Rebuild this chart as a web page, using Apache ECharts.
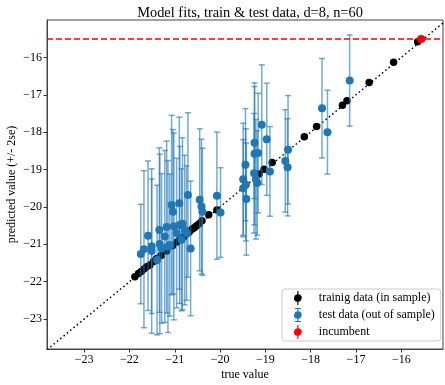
<!DOCTYPE html>
<html>
<head>
<meta charset="utf-8">
<script src="https://cdn.jsdelivr.net/npm/echarts@6/dist/echarts.min.js"></script>
<style>html,body{margin:0;padding:0;background:#fff}#c{width:445px;height:385px}</style>
</head>
<body>
<div id="c"></div>
<script>
// ---- data ----
const xLimits = [-23.82, -15.08];
const yLimits = [-23.80, -15.0];
const tickValues = [-23, -22, -21, -20, -19, -18, -17, -16];

const trainX = [-21.88,-21.80,-21.74,-21.68,-21.62,-21.55,-21.47,-21.40,-21.30,-21.18,-21.05,-20.95,-20.88,-20.80,-20.74,-20.68,-20.62,-20.57,-20.52,-20.46,-20.40,-20.25,-20.07,-19.14,-19.03,-18.85,-18.14,-17.87,-17.30,-17.20,-16.71,-16.17,-15.64];
const trainY = [-21.87,-21.78,-21.73,-21.66,-21.60,-21.55,-21.46,-21.38,-21.30,-21.18,-21.04,-20.94,-20.87,-20.80,-20.72,-20.67,-20.60,-20.56,-20.50,-20.45,-20.37,-20.21,-20.08,-19.12,-18.99,-18.81,-18.12,-17.85,-17.28,-17.16,-16.67,-16.13,-15.58];

const testX = [-21.75,-21.68,-21.59,-21.51,-21.51,-21.39,-21.34,-21.33,-21.29,-21.22,-21.18,-21.15,-21.11,-21.07,-21.04,-21.02,-20.96,-20.90,-20.89,-20.85,-20.83,-20.78,-20.74,-20.71,-20.65,-20.45,-20.41,-20.39,-20.07,-19.99,
  -19.49,-19.49,-19.44,-19.43,-19.42,-19.25,-19.24,-19.24,-19.16,-19.21,-19.18,-19.08,-18.97,-18.90,
  -18.56,-18.50,-18.51,-17.75,-17.63,-17.14];
const testY = [-21.26,-21.13,-20.77,-21.18,-21.05,-21.42,-20.62,-20.99,-21.11,-20.79,-20.54,-21.06,-21.02,-19.95,-20.13,-20.52,-20.70,-19.90,-20.48,-20.88,-20.45,-20.62,-20.70,-19.68,-21.11,-19.81,-19.99,-20.13,-19.70,-20.15,
  -19.50,-19.26,-18.87,-19.41,-19.79,-19.10,-18.28,-18.58,-18.56,-19.26,-19.36,-17.80,-18.19,-19.05,
  -18.77,-18.47,-18.94,-17.36,-18.00,-16.62];
const testErr = [1.33,2.10,2.00,2.20,1.80,2.00,2.20,2.40,2.00,2.30,2.30,2.30,1.90,2.40,2.20,2.50,2.00,2.30,2.10,1.90,2.30,2.00,1.80,2.20,1.80,1.90,1.80,1.70,1.70,1.20,
  1.30,1.50,1.50,1.50,1.50,1.60,1.50,1.90,1.60,1.60,1.40,1.60,1.50,1.20,
  1.37,1.45,1.30,1.33,1.12,1.22];

const incumbentX = [-15.56];
const incumbentY = [-15.51];

const labels = ['trainig data (in sample)', 'test data (out of sample)', 'incumbent'];
const titleText = 'Model fits, train & test data, d=8, n=60';
const xName = 'true value';
const yName = 'predicted value (+/- 2se)';

// ---- chart ----
const FONT = '"Liberation Serif", "DejaVu Serif", serif';
const fmt = v => (v < 0 ? '\u2212' : '') + Math.abs(v);

const pathPlain = 'path://M5.25,0 H6.75 V4.06 A5,5 0 0 1 6.75,13.94 V18 H5.25 V13.94 A5,5 0 0 1 5.25,4.06 Z';
const pathCaps = pathPlain + ' M2,0 H10 V1.2 H2 Z M2,16.8 H10 V18 H2 Z';

const trainData = trainX.map((x, i) => [x, trainY[i]]);
const testData = testX.map((x, i) => [x, testY[i]]);
const testBars = testX.map((x, i) => [x, testY[i] - testErr[i], testY[i] + testErr[i]]);
const incData = incumbentX.map((x, i) => [x, incumbentY[i]]);

function renderErr(params, api) {
  const lo = api.coord([api.value(0), api.value(1)]);
  const hi = api.coord([api.value(0), api.value(2)]);
  const cw = 3;
  const style = { stroke: 'rgba(31,119,180,0.62)', lineWidth: 1.5, fill: null };
  return {
    type: 'group',
    children: [
      { type: 'line', shape: { x1: lo[0], y1: lo[1], x2: hi[0], y2: hi[1] }, style },
      { type: 'line', shape: { x1: lo[0] - cw, y1: lo[1], x2: lo[0] + cw, y2: lo[1] }, style },
      { type: 'line', shape: { x1: hi[0] - cw, y1: hi[1], x2: hi[0] + cw, y2: hi[1] }, style }
    ]
  };
}

const chart = echarts.init(document.getElementById('c'), null, { renderer: 'canvas' });
chart.setOption({
  animation: false,
  backgroundColor: '#fff',
  title: {
    text: titleText, left: 245, top: 1, textAlign: 'center',
    textStyle: { fontFamily: FONT, fontSize: 14.4, fontWeight: 'normal', color: '#000' }
  },
  grid: { left: 47, right: 2, top: 20, bottom: 36, outerBoundsMode: 'none', containLabel: false, show: true, borderColor: '#444', borderWidth: 1, backgroundColor: 'transparent' },
  xAxis: {
    type: 'value', min: xLimits[0], max: xLimits[1],
    name: xName, nameLocation: 'middle', nameGap: 20, nameMoveOverlap: false,
    nameTextStyle: { fontFamily: FONT, fontSize: 12, color: '#000' },
    axisLine: { show: true, lineStyle: { color: '#444', width: 1 } },
    axisTick: { show: true, customValues: tickValues, length: 3.5, lineStyle: { color: '#333' } },
    axisLabel: { customValues: tickValues, formatter: fmt, fontFamily: FONT, fontSize: 12, color: '#000', margin: 5 },
    splitLine: { show: false }
  },
  yAxis: {
    type: 'value', min: yLimits[0], max: yLimits[1],
    name: yName, nameLocation: 'middle', nameGap: 29, nameRotate: 90, nameMoveOverlap: false,
    nameTextStyle: { fontFamily: FONT, fontSize: 12, color: '#000' },
    axisLine: { show: true, lineStyle: { color: '#444', width: 1 } },
    axisTick: { show: true, customValues: tickValues, length: 3.5, lineStyle: { color: '#333' } },
    axisLabel: { customValues: tickValues, formatter: fmt, fontFamily: FONT, fontSize: 12, color: '#000', margin: 5 },
    splitLine: { show: false }
  },
  legend: {
    orient: 'vertical', left: 282, top: 289,
    padding: [2, 6, 2, 12], itemGap: 3, itemWidth: 32, itemHeight: 14,
    borderColor: '#ccc', borderWidth: 1, borderRadius: 3, backgroundColor: 'rgba(255,255,255,0.8)',
    textStyle: { fontFamily: FONT, fontSize: 12, color: '#000' },
    data: [
      { name: labels[0], icon: pathPlain, itemStyle: { color: '#000' } },
      { name: labels[1], icon: pathCaps, itemStyle: { color: '#1f77b4' } },
      { name: labels[2], icon: pathPlain, itemStyle: { color: '#ff0000' } }
    ]
  },
  series: [
    {
      type: 'line', name: 'diag', silent: true, symbol: 'none', z: 1,
      data: [[xLimits[0], xLimits[0]], [xLimits[1], xLimits[1]]],
      lineStyle: { color: '#000', width: 1.5, type: [1.5, 2.8] }
    },
    {
      type: 'scatter', name: labels[0], z: 2, symbolSize: 7.5,
      itemStyle: { color: '#000', opacity: 1 }, data: trainData
    },
    {
      type: 'custom', name: labels[1], z: 3, renderItem: renderErr,
      encode: { x: 0, y: [1, 2] }, data: testBars
    },
    {
      type: 'scatter', name: labels[1], z: 4, symbolSize: 8,
      itemStyle: { color: '#1f77b4', opacity: 1 }, data: testData
    },
    {
      type: 'scatter', name: labels[2], z: 5, symbolSize: 8,
      itemStyle: { color: '#ff0000', opacity: 1 }, data: incData,
      markLine: {
        silent: true, symbol: 'none', label: { show: false },
        lineStyle: { color: '#ff0000', width: 1.5, type: [6, 3] },
        data: [{ yAxis: incumbentY[0] }]
      }
    }
  ]
});
</script>
</body>
</html>
